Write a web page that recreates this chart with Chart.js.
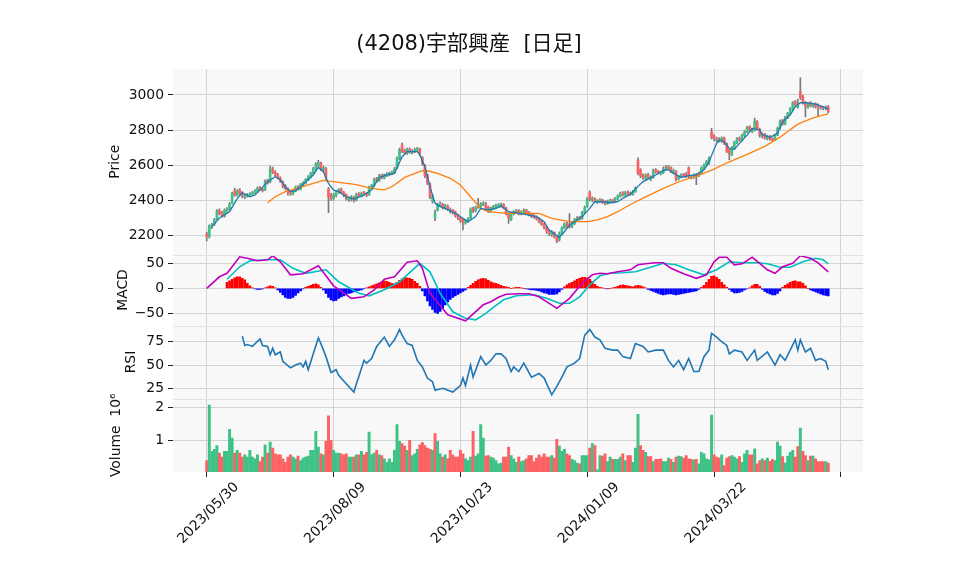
<!DOCTYPE html>
<html><head><meta charset="utf-8">
<script src="https://cdn.jsdelivr.net/npm/chart.js@4.4.1/dist/chart.umd.min.js"></script>
<style>html,body{margin:0;padding:0;background:#fff;}canvas{display:block;}</style>
</head><body>
<canvas id="c" width="958" height="575"></canvas>
<script>
// ---------------- data ----------------
const chartTitle = '(4208)宇部興産  [日足]';
const tickIndex = [0, 50, 100, 150, 200, 250];
const tickLabels = ['2023/05/30', '2023/08/09', '2023/10/23', '2024/01/09', '2024/03/22', ''];
const priceTicks = [2200, 2400, 2600, 2800, 3000];
const macdTicks = [-50, 0, 50];
const rsiTicks = [25, 50, 75];
const volumeTicks = [1000000, 2000000];

const open = [
2210,2195,2250,2265,2295,2342,2330,2310,2340,2352, 2385,2455,2432,2460,2445,2418,2425,2430,2436,2442,
2452,2472,2465,2458,2515,2505,2578,2562,2548,2528, 2505,2482,2468,2450,2438,2452,2478,2462,2488,2498,
2518,2532,2552,2578,2600,2612,2575,2582,2465,2430, 2412,2428,2448,2462,2448,2432,2405,2410,2418,2402,
2438,2422,2445,2440,2432,2472,2482,2525,2512,2545, 2528,2542,2548,2552,2558,2585,2638,2715,2685,2668,
2692,2672,2678,2685,2692,2645,2598,2545,2495,2395, 2300,2345,2372,2378,2358,2368,2335,2345,2335,2318,
2298,2290,2272,2282,2298,2355,2342,2370,2362,2378, 2382,2362,2338,2352,2362,2368,2370,2378,2358,2325,
2290,2322,2330,2342,2322,2332,2345,2332,2322,2315, 2308,2298,2282,2265,2248,2225,2205,2218,2198,2175,
2215,2245,2268,2262,2252,2268,2290,2305,2298,2330, 2365,2445,2400,2410,2390,2395,2402,2395,2382,2392,
2402,2392,2410,2422,2442,2430,2448,2442,2435,2450, 2630,2575,2545,2525,2548,2522,2530,2575,2565,2550,
2558,2590,2582,2588,2562,2565,2522,2535,2548,2545, 2585,2528,2532,2548,2540,2555,2582,2600,2612,2790,
2768,2742,2752,2738,2755,2722,2690,2662,2698,2728, 2755,2742,2768,2790,2820,2790,2800,2848,2805,2765,
2775,2752,2765,2752,2745,2772,2812,2855,2835,2872, 2895,2918,2962,2930,3020,2990,2958,2932,2955,2938,
2948,2932,2930,2928,2922,2932];
const high = [
2220,2262,2270,2298,2348,2352,2338,2352,2360,2388, 2448,2470,2462,2468,2450,2438,2440,2445,2452,2462,
2478,2480,2470,2518,2522,2595,2590,2570,2555,2535, 2512,2490,2472,2458,2462,2482,2485,2498,2508,2525,
2542,2562,2588,2615,2628,2618,2595,2588,2475,2440, 2440,2458,2468,2470,2452,2438,2422,2428,2425,2442,
2445,2448,2452,2445,2482,2492,2528,2532,2548,2550, 2552,2558,2562,2568,2588,2648,2698,2728,2692,2698,
2700,2690,2698,2702,2698,2650,2605,2550,2500,2435, 2345,2385,2392,2385,2378,2375,2358,2350,2340,2322,
2305,2295,2292,2302,2358,2362,2368,2412,2388,2392, 2390,2368,2362,2372,2380,2382,2385,2382,2362,2330,
2332,2342,2348,2348,2342,2352,2350,2338,2328,2320, 2312,2302,2288,2270,2252,2232,2228,2222,2202,2222,
2252,2272,2275,2325,2278,2298,2308,2310,2338,2368, 2418,2455,2420,2415,2405,2410,2408,2398,2402,2408,
2408,2418,2432,2448,2450,2452,2455,2448,2458,2478, 2642,2582,2552,2552,2555,2540,2578,2582,2572,2565,
2592,2598,2600,2592,2578,2570,2542,2552,2555,2560, 2592,2542,2552,2555,2562,2592,2608,2628,2648,2810,
2775,2760,2758,2762,2760,2728,2695,2708,2738,2758, 2762,2778,2798,2822,2825,2812,2868,2855,2812,2785,
2782,2772,2770,2758,2778,2818,2858,2862,2878,2902, 2928,2962,2970,2975,3098,2998,2962,2958,2962,2952,
2955,2950,2940,2935,2938,2940];
const low = [
2170,2185,2240,2258,2290,2318,2305,2305,2332,2345, 2380,2425,2425,2432,2415,2410,2418,2422,2430,2438,
2448,2455,2448,2455,2492,2500,2552,2538,2522,2502, 2472,2460,2430,2428,2432,2448,2458,2460,2482,2492,
2512,2528,2548,2572,2592,2570,2560,2520,2330,2400, 2402,2420,2440,2438,2420,2402,2395,2398,2390,2398,
2418,2418,2428,2422,2428,2465,2478,2502,2508,2522, 2522,2535,2540,2545,2552,2580,2632,2672,2660,2662,
2668,2665,2672,2678,2655,2600,2530,2490,2410,2385, 2285,2340,2365,2350,2350,2342,2328,2322,2305,2290,
2275,2232,2265,2275,2292,2330,2335,2355,2355,2370, 2352,2330,2332,2348,2355,2360,2362,2352,2318,2270,
2285,2318,2325,2318,2318,2325,2322,2312,2302,2298, 2288,2272,2258,2238,2212,2200,2195,2185,2160,2168,
2210,2240,2248,2242,2245,2262,2285,2288,2292,2325, 2360,2398,2392,2388,2382,2388,2382,2375,2378,2385,
2385,2388,2405,2418,2425,2425,2432,2428,2430,2445, 2545,2530,2520,2515,2522,2512,2525,2555,2550,2545,
2552,2572,2575,2558,2552,2510,2515,2528,2532,2530, 2528,2522,2525,2490,2535,2550,2575,2595,2605,2750,
2740,2735,2732,2730,2718,2672,2630,2655,2690,2722, 2738,2738,2762,2785,2792,2785,2795,2802,2760,2755,
2748,2745,2742,2738,2740,2768,2805,2828,2830,2865, 2888,2912,2938,2925,2975,2948,2875,2925,2932,2930,
2925,2880,2918,2915,2915,2898];
const close = [
2195,2255,2262,2290,2340,2325,2312,2345,2350,2380, 2440,2430,2455,2440,2425,2430,2432,2438,2445,2455,
2470,2462,2455,2510,2500,2580,2560,2545,2530,2510, 2480,2470,2445,2440,2455,2475,2465,2490,2500,2520,
2535,2555,2580,2605,2615,2580,2585,2530,2420,2410, 2430,2450,2460,2445,2430,2410,2415,2420,2400,2435,
2425,2440,2435,2430,2475,2485,2520,2510,2540,2530, 2545,2550,2555,2560,2580,2640,2690,2680,2670,2690,
2675,2680,2690,2695,2665,2610,2540,2500,2420,2425, 2330,2375,2380,2360,2370,2350,2345,2330,2315,2300,
2285,2275,2285,2295,2350,2340,2360,2365,2380,2385, 2360,2340,2355,2365,2372,2375,2378,2360,2330,2300,
2325,2335,2340,2325,2335,2340,2330,2320,2310,2305, 2295,2280,2265,2245,2225,2210,2220,2195,2170,2215,
2245,2265,2255,2250,2270,2290,2300,2295,2330,2360, 2410,2405,2412,2395,2398,2402,2390,2385,2395,2400,
2392,2410,2425,2440,2432,2445,2440,2435,2450,2470, 2555,2540,2530,2545,2530,2525,2570,2562,2558,2555,
2580,2585,2590,2565,2570,2520,2535,2545,2540,2538, 2535,2530,2545,2540,2555,2585,2600,2620,2640,2760,
2750,2745,2740,2755,2725,2680,2665,2700,2730,2750, 2745,2770,2790,2815,2800,2795,2850,2810,2770,2775,
2755,2765,2750,2745,2770,2810,2850,2835,2870,2895, 2920,2955,2945,2940,2985,2955,2935,2950,2940,2945,
2935,2930,2928,2925,2930,2905];
const volume = [
360000,2080000,650000,710000,830000,600000,470000,650000,650000,1330000,
1060000,600000,680000,600000,470000,540000,470000,680000,470000,420000,
540000,330000,470000,850000,600000,940000,750000,570000,540000,540000,
420000,310000,470000,540000,470000,420000,500000,360000,440000,470000,
500000,680000,680000,1270000,780000,570000,540000,960000,1750000,990000,
680000,600000,600000,570000,540000,570000,470000,470000,470000,540000,
540000,650000,540000,620000,1250000,540000,600000,680000,540000,520000,
420000,310000,420000,310000,680000,1480000,960000,890000,810000,680000,
990000,520000,570000,710000,850000,920000,830000,750000,710000,680000,
1200000,960000,570000,470000,540000,420000,680000,540000,470000,470000,
680000,570000,420000,360000,470000,1270000,500000,570000,1480000,1060000,
500000,520000,470000,440000,360000,260000,290000,470000,470000,780000,
520000,420000,310000,470000,330000,360000,420000,520000,520000,330000,
440000,540000,470000,570000,470000,470000,520000,440000,1020000,810000,
650000,710000,570000,520000,400000,360000,290000,260000,520000,520000,
520000,750000,890000,830000,80000,520000,500000,570000,330000,470000,
400000,400000,400000,470000,570000,360000,520000,520000,310000,750000,
1800000,830000,680000,620000,490000,490000,330000,400000,400000,420000,
330000,330000,440000,400000,310000,470000,500000,490000,440000,520000,
420000,400000,390000,400000,260000,620000,570000,420000,390000,1770000,
540000,470000,440000,540000,210000,440000,490000,520000,470000,420000,
490000,310000,570000,680000,540000,540000,730000,260000,360000,420000,
360000,440000,340000,400000,360000,940000,810000,490000,290000,500000,
620000,680000,470000,800000,1370000,650000,520000,360000,500000,500000,
420000,330000,330000,330000,330000,290000];

// moving averages: [bar index, value]
const ma5Points = [[2,2250],[5,2300],[9,2336],[12,2410],[14,2444],[17,2421],[19,2431],[21,2459],[24,2507],[27,2535],
[29,2516],[31,2478],[33,2450],[35,2456],[37,2478],[39,2507],[42,2545],[44,2588],[46,2564],[48,2497],[50,2459],[52,2450],
[55,2421],[58,2408],[62,2431],[65,2460],[68,2531],[71,2545],[74,2554],[77,2649],[79,2678],[83,2678],[84,2659],[86,2592],
[88,2478],[90,2384],[92,2365],[94,2355],[98,2327],[102,2289],[103,2279],[106,2308],[108,2355],[111,2346],[114,2355],
[116,2368],[119,2336],[123,2327],[127,2317],[130,2308],[133,2279],[135,2232],[139,2190],[141,2222],[143,2260],[146,2289],
[148,2308],[151,2355],[153,2393],[156,2393],[159,2387],[162,2393],[164,2412],[167,2435],[170,2480],[172,2507],[175,2530],
[177,2545],[180,2571],[182,2575],[184,2554],[187,2531],[190,2541],[193,2545],[196,2573],[198,2620],[201,2725],[202,2744],
[204,2734],[206,2696],[208,2691],[210,2725],[213,2772],[215,2810],[218,2801],[219,2775],[222,2759],[225,2782],[227,2848],
[230,2886],[232,2933],[234,2956],[236,2956],[240,2948],[243,2933],[245,2921]];
const ma25Points = [[24,2387],[27,2421],[31,2450],[37,2475],[42,2497],[46,2514],[52,2503],[59,2490],[65,2469],[70,2460],
[73,2478],[78,2531],[85,2569],[87,2569],[91,2554],[96,2526],[100,2488],[104,2421],[108,2355],[111,2336],[118,2327],
[125,2327],[131,2327],[136,2298],[143,2279],[150,2279],[154,2289],[158,2308],[162,2336],[167,2377],[173,2420],[180,2469],
[186,2505],[193,2538],[200,2578],[206,2620],[213,2662],[220,2708],[226,2760],[233,2834],[239,2870],[245,2893]];

const macdPoints = [[0,0],[5,23],[8,30],[13,63],[16,60],[20,55],[24,57],[26,65],[29,53],[33,27],[38,29],[44,45],[50,5],
[52,-2],[57,-20],[62,-17],[66,-3],[70,18],[74,23],[79,52],[83,55],[85,40],[88,-10],[95,-53],[102,-65],[109,-33],[112,-27],
[115,-18],[118,-12],[123,-11],[127,-11],[131,-17],[135,-30],[138,-40],[143,-20],[148,10],[152,27],[155,30],[158,29],
[162,33],[167,37],[170,47],[173,49],[177,51],[180,51],[183,40],[188,29],[193,20],[197,27],[200,53],[202,62],[205,62],
[208,47],[211,49],[215,62],[218,50],[221,37],[224,30],[227,43],[231,50],[234,65],[238,60],[241,51],[245,33]];
const signalPoints = [[8,18],[13,43],[17,55],[24,57],[29,57],[34,40],[39,30],[47,37],[52,13],[60,-10],[64,-15],[70,-3],
[76,13],[84,50],[88,33],[92,-10],[97,-47],[102,-60],[106,-63],[110,-50],[113,-38],[117,-23],[122,-15],[129,-13],[134,-20],
[139,-30],[143,-30],[147,-17],[151,7],[155,25],[159,30],[164,31],[169,33],[175,42],[180,50],[185,47],[190,37],[196,27],
[201,37],[206,53],[211,51],[217,51],[221,49],[226,42],[230,42],[235,53],[240,60],[243,57],[245,49]];
const macdHist = [
null,null,null,null,null,null,null,null,12,15, 18,21,23,23,20,17,10,5,1,-1,
-2,-2,-1,1,3,5,4,1,-3,-8, -13,-18,-20,-20,-18,-14,-9,-5,-1,2,
4,6,8,9,7,2,-3,-10,-18,-23, -25,-24,-20,-17,-15,-12,-10,-9,-7,-5,
-4,-3,-1,1,3,5,7,9,11,13, 15,14,12,10,9,12,16,19,21,21,
20,18,14,10,4,-5,-15,-25,-35,-42, -48,-50,-46,-40,-33,-27,-22,-18,-15,-12,
-9,-6,-3,2,6,10,14,17,19,20, 19,16,13,11,10,8,6,4,3,2,
0,1,2,2,1,0,-1,-2,-3,-3, -4,-5,-7,-9,-10,-12,-12,-12,-11,-7,
-2,3,7,10,12,15,18,20,22,22, 21,18,14,8,4,2,1,0,-1,0,
1,2,4,6,7,6,5,4,3,5, 6,5,3,1,-2,-4,-6,-8,-10,-12,
-13,-12,-11,-11,-12,-13,-12,-11,-10,-9, -8,-7,-6,-5,-2,2,6,12,18,24,
25,22,18,12,7,2,-2,-6,-9,-9, -8,-6,-3,-1,1,5,8,8,4,-2,
-6,-9,-11,-13,-13,-10,-5,2,6,9, 12,14,15,13,13,10,5,0,-3,-5,
-7,-9,-11,-13,-14,-15];

const rsiPoints = [[14,81],[15,71],[16,72],[18,70],[21,78],[22,71],[24,70],[25,61],[26,68],[27,61],[29,64],[30,54],[33,47],
[35,50],[37,52],[38,48],[39,54],[40,45],[42,62],[44,79],[45,73],[47,59],[49,42],[51,45],[52,39],[55,30],[58,21],[59,30],
[60,38],[62,55],[63,52],[65,57],[67,70],[70,80],[72,70],[74,77],[76,88],[77,82],[79,73],[81,71],[83,55],[85,48],[87,36],
[89,32],[90,23],[93,25],[97,21],[100,28],[101,36],[102,28],[104,50],[105,37],[108,59],[110,50],[112,55],[114,62],[116,62],
[118,57],[120,43],[121,48],[123,43],[125,52],[128,37],[131,41],[133,36],[136,18],[138,27],[140,37],[142,48],[145,52],
[147,57],[149,82],[151,88],[153,80],[155,77],[157,68],[160,66],[162,66],[164,59],[167,57],[169,73],[172,70],[174,64],
[177,66],[180,66],[182,55],[184,48],[186,55],[188,45],[190,57],[192,43],[194,43],[196,59],[198,66],[199,84],[201,80],
[203,75],[205,71],[206,62],[208,66],[211,64],[213,55],[216,66],[217,55],[221,64],[224,50],[226,61],[228,55],[232,77],
[233,66],[234,77],[236,64],[238,68],[240,55],[242,57],[244,54],[245,45]];

// ---------------- styling / drawing ----------------
const F = "'DejaVu Sans', 'Noto Sans CJK JP', sans-serif";
const UP = '#3ec286', DOWN = '#fc6263';
const GRID = '#d3d3d3', TXT = '#111';
const xy = pts => pts.map(([x, y]) => ({x, y}));

const bodies = close.map((c, i) => ({x: i, y: [open[i], c]}));
const wicks = close.map((c, i) => ({x: i, y: [low[i], high[i]]}));
const bodyColors = close.map((c, i) => c >= open[i] ? UP : DOWN);
const volData = volume.map((v, i) => ({x: i, y: v}));
const volColors = close.map((c, i) => (i === 0 ? c >= open[0] : c >= close[i - 1]) ? UP : DOWN);
const histData = macdHist.map((h, i) => ({x: i, y: h}));
const histColors = macdHist.map(h => (h !== null && h >= 0) ? '#ff0000' : '#0000ff');

// panel pixel heights -> stack weights
const W = {p: 185.5, m: 71, r: 73, v: 73.5};

function yAxis(o) {
  return {
    type: 'linear', position: 'left', stack: 'panels', bounds: 'data',
    stackWeight: o.sw, weight: o.w, min: o.min, max: o.max,
    border: {display: false},
    grid: {color: GRID, lineWidth: 1, tickColor: '#222', tickLength: 5},
    afterBuildTicks(s) { s.ticks = o.ticks.map(v => ({value: v})); },
    ticks: {font: {family: F, size: 13.9}, color: TXT, padding: 4, callback: o.cb || (v => String(v))},
    title: {display: true, text: o.title, font: {family: F, size: 13.9}, color: TXT, padding: {top: o.tx, bottom: 0}},
    afterFit(s) { s.width = 173; }
  };
}

const bgPlugin = {
  id: 'panelBg',
  beforeDraw(chart) {
    const {ctx, chartArea: a} = chart;
    ctx.save();
    ctx.fillStyle = '#f8f8f8';
    ctx.fillRect(a.left, a.top, a.right - a.left, a.bottom - a.top);
    ctx.restore();
  },
  afterDraw(chart) {
    const {ctx, chartArea: a} = chart;
    ctx.save();
    ctx.strokeStyle = '#e2e2e2';
    ctx.lineWidth = 1;
    ['yP', 'yM', 'yR'].forEach(id => {
      const y = Math.round(chart.scales[id].bottom) + 0.5;
      ctx.beginPath(); ctx.moveTo(a.left, y); ctx.lineTo(a.right, y); ctx.stroke();
    });
    ctx.restore();
  }
};

new Chart(document.getElementById('c'), {
  type: 'bar',
  data: {
    datasets: [
      {type: 'line', data: xy(ma5Points), yAxisID: 'yP', borderColor: '#1f77b4', borderWidth: 1.3, pointRadius: 0, order: 1},
      {type: 'line', data: xy(ma25Points), yAxisID: 'yP', borderColor: '#ff7f0e', borderWidth: 1.3, pointRadius: 0, order: 2},
      {type: 'bar', data: bodies, yAxisID: 'yP', backgroundColor: bodyColors, barThickness: 2, grouped: false, order: 5},
      {type: 'bar', data: wicks, yAxisID: 'yP', backgroundColor: '#7a7a7a', barThickness: 1, grouped: false, order: 6},
      {type: 'line', data: xy(macdPoints), yAxisID: 'yM', borderColor: '#bf00bf', borderWidth: 1.6, pointRadius: 0, order: 1},
      {type: 'line', data: xy(signalPoints), yAxisID: 'yM', borderColor: '#00bfbf', borderWidth: 1.6, pointRadius: 0, order: 1},
      {type: 'bar', data: histData, yAxisID: 'yM', backgroundColor: histColors, barThickness: 2, grouped: false, order: 5},
      {type: 'line', data: xy(rsiPoints), yAxisID: 'yR', borderColor: '#1f77b4', borderWidth: 1.6, pointRadius: 0, order: 1},
      {type: 'bar', data: volData, yAxisID: 'yV', backgroundColor: volColors, barThickness: 2.3, grouped: false, order: 5}
    ]
  },
  options: {
    responsive: false, animation: false, devicePixelRatio: 1,
    layout: {padding: {left: 0, right: 20, top: 0, bottom: 0}},
    plugins: {
      legend: {display: false}, tooltip: {enabled: false},
      title: {display: true, text: chartTitle, color: TXT, font: {family: F, size: 21, weight: 'normal'},
              padding: {top: 32, bottom: 11.8}}
    },
    scales: {
      x: {
        type: 'linear', min: -13.3, max: 258.7, offset: false, bounds: 'data',
        border: {display: false},
        grid: {color: GRID, tickColor: '#222', tickLength: 5, offset: false},
        afterBuildTicks(s) { s.ticks = tickIndex.map(v => ({value: v})); },
        ticks: {autoSkip: false, minRotation: 45, maxRotation: 45, labelOffset: 30, font: {family: F, size: 13.9}, color: TXT, padding: 2,
                callback: v => { const k = tickIndex.indexOf(v); return k >= 0 ? tickLabels[k] : ''; }},
        afterFit(s) { s.height = 103; }
      },
      yP: yAxis({sw: W.p, w: 4, min: 2092.5, max: 3147.9, ticks: priceTicks, title: 'Price', tx: 107}),
      yM: yAxis({sw: W.m, w: 3, min: -74.4, max: 67.6, ticks: macdTicks, title: 'MACD', tx: 115,
                 cb: v => v < 0 ? '\u2212' + Math.abs(v) : String(v)}),
      yR: yAxis({sw: W.r, w: 2, min: 14.1, max: 92.4, ticks: rsiTicks, title: 'RSI', tx: 123}),
      yV: yAxis({sw: W.v, w: 1, min: 10000, max: 2287500, ticks: volumeTicks, title: 'Volume  10\u2076', tx: 108,
                 cb: v => String(v / 1e6)}),
      yDummy: {type: 'linear', position: 'right', display: true, grid: {display: false}, border: {display: false},
               ticks: {display: false}, afterFit(s) { s.width = 75; }}
    }
  },
  plugins: [bgPlugin]
});
</script>
</body></html>
